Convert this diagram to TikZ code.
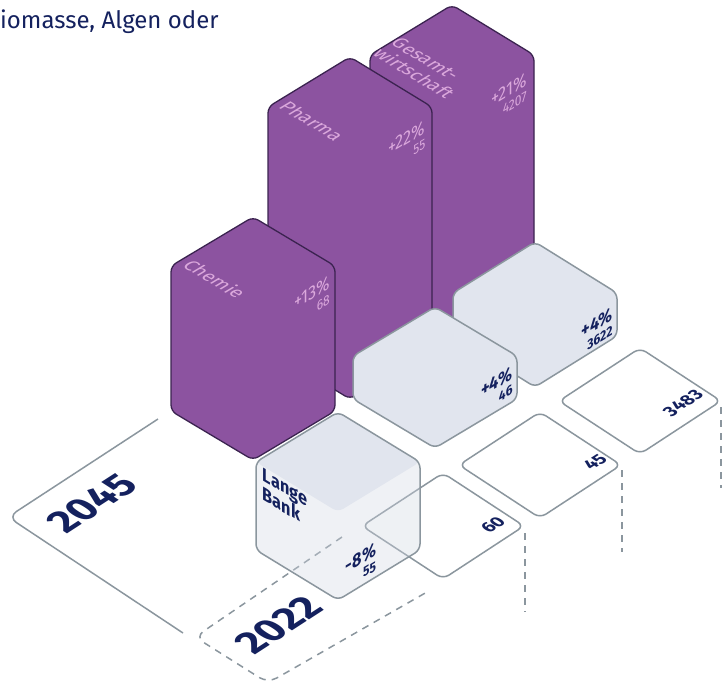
\documentclass[tikz,border=0pt]{standalone}
\usepackage{fontspec}
\setmainfont{Fira Sans}
\usetikzlibrary{calc}
\definecolor{lila}{HTML}{8C53A0}
\definecolor{lilaline}{HTML}{3B2350}
\definecolor{lilatext}{HTML}{DBA8DC}
\definecolor{grau}{HTML}{E1E5EE}
\definecolor{grauhell}{RGB}{209,215,226}
\definecolor{grauline}{HTML}{8B969E}
\definecolor{navy}{HTML}{14215E}
% box: top vertex (x,y), half-height of the top face : height of the sides
\def\isobox[#1](#2,#3)(#4:#5){\draw[#1] (#2,#3) -- ++(82,#4) -- ++(0,#5) -- ++(-82,#4) -- ++(-82,-#4) -- ++(0,-#5) -- cycle;}
% flat plate on the floor, top vertex (x,y)
\def\isoplate[#1](#2,#3){\draw[#1] (#2,#3) -- ++(81,53) -- ++(-81,53) -- ++(-81,-53) -- cycle;}
\tikzset{
  bar/.style={fill=lila, draw=lilaline, line width=1.3pt, rounded corners=6pt},
  cube/.style={fill=grau, draw=grauline, line width=1.5pt, rounded corners=6pt},
  plate/.style={fill=white, draw=grauline, line width=1.5pt, rounded corners=7pt},
  floorline/.style={draw=grauline, line width=1.5pt, rounded corners=10pt},
  guide/.style={draw=grauline, line width=1.5pt, dash pattern=on 7pt off 6pt},
  rightface/.style={transform shape, cm={0.857,0.515,0,1,(0,0)}},
  leftface/.style={transform shape, cm={0.857,-0.515,0,1,(0,0)}},
  topface/.style={transform shape, cm={0.857,-0.515,0.857,0.515,(0,0)}},
  floortext/.style={transform shape, cm={0.84,0.545,-0.84,0.545,(0,0)}},
  yeartext/.style={text=navy, font=\bfseries\fontsize{40}{40}\selectfont},
  valtext/.style={text=navy, font=\bfseries\fontsize{18}{18}\selectfont},
  cubetext/.style={text=navy, font=\bfseries\fontsize{19}{15}\selectfont, align=right},
  lilalabel/.style={text=lilatext, font=\fontsize{19}{21}\selectfont},
  lilavalue/.style={text=lilatext, font=\fontsize{19}{15}\selectfont, align=right},
}
\begin{document}
\begin{tikzpicture}[x=1pt, y=-1pt, every node/.style={inner sep=0pt}]
  \useasboundingbox (0,0) rectangle (722,688);

  %%%%% title
  \node[anchor=base west, text=navy, font=\fontsize{24}{26}\selectfont] (titel) at (0,28) {iomasse, Algen oder};

  %%%%% floor 2045
  \draw[floorline] (158,419) -- (8,517) -- (183,633);
  \node[floortext, yeartext] (j2045) at (92,503) {2045};

  %%%%% floor 2022
  \isoplate[plate](443,473)
  \isoplate[plate](540,412)
  \isoplate[plate](640,348)
  \draw[guide] (525,533) -- (525,612);
  \draw[guide] (622,470) -- (622,552);
  \draw[guide] (721,407) -- (721,488);
  \draw[guide, rounded corners=10pt] (342,537) -- (195,637) -- (268,683) -- (427,592);
  \node[floortext, yeartext] (j2022) at (279,625) {2022};
  \node[floortext, valtext] (wchemie) at (493,525) {60};
  \node[floortext, valtext] (wpharma) at (595,462) {45};
  \node[floortext, valtext] (wgesamt) at (683,403) {3483};

  %%%%% bars, back to front
  \isobox[bar](452,5)(50:280)
  \isobox[cube](535,242)(51:43)
  \isobox[bar](350,57)(50:242)
  \isobox[cube](435,307)(49:43)
  \isobox[bar](253,217)(49:145)

  % Lange Bank
  \isobox[fill=grauhell, fill opacity=0.35, draw=none, rounded corners=6pt](338,412)(50:88)
  \fill[grau, rounded corners=6pt] (338,412) -- ++(82,50) -- ++(-82,50) -- ++(-82,-50) -- cycle;
  \isobox[cube, fill=none](338,412)(50:88)

  %%%%% labels
  \node[topface, lilalabel] (lchemie) at (215,279) {Chemie};
  \node[topface, lilalabel] (lpharma) at (312,121) {Pharma};
  \node[topface, lilalabel, align=left] (lgesamt) at (423,68) {Gesamt-\\wirtschaft};
  \node[rightface, lilavalue] (pchemie) at (312,300) {+13\%\\{\fontsize{14}{14}\selectfont 68}};
  \node[rightface, lilavalue] (ppharma) at (407,145) {+22\%\\{\fontsize{14}{14}\selectfont 55}};
  \node[rightface, lilavalue] (pgesamt) at (509,97) {+21\%\\{\fontsize{14}{14}\selectfont 4207}};

  \node[leftface, text=navy, font=\bfseries\fontsize{19}{19}\selectfont, align=left] (lange) at (285,497) {Lange\\Bank};
  \node[rightface, cubetext] (bchemie) at (361,565) {-8\%\\{\fontsize{14}{14}\selectfont 55}};
  \node[rightface, cubetext] (bpharma) at (497,389) {+4\%\\{\fontsize{14}{14}\selectfont 46}};
  \node[rightface, cubetext] (bgesamt) at (597,330) {+4\%\\{\fontsize{14}{14}\selectfont 3622}};
\end{tikzpicture}
\end{document}
